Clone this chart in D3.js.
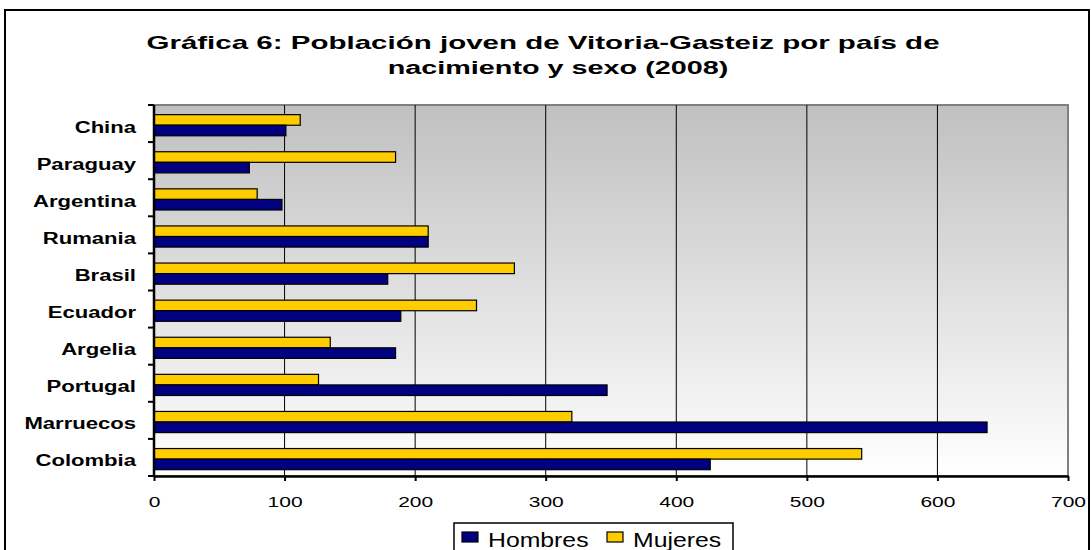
<!DOCTYPE html>
<html>
<head>
<meta charset="utf-8">
<script src="https://cdn.jsdelivr.net/npm/d3@7"></script>
<style>
  body { margin: 0; background: #fff; }
  text { font-family: Arial, "Liberation Sans", sans-serif; }
</style>
</head>
<body>
<div id="chart"></div>
<script>
// chart data
var paises = ["China", "Paraguay", "Argentina", "Rumania", "Brasil", "Ecuador", "Argelia", "Portugal", "Marruecos", "Colombia"];
var hombres = [101, 73, 98, 210, 179, 189, 185, 347, 638, 426];
var mujeres = [112, 185, 79, 210, 276, 247, 135, 126, 320, 542];
var series = ["Mujeres", "Hombres"];
var xTicks = [0, 100, 200, 300, 400, 500, 600, 700];
var titulo = ["Gráfica 6: Población joven de Vitoria-Gasteiz por país de", "nacimiento y sexo (2008)"];

var width = 1091;
var height = 550;
// plot area edges (note: "top" is reserved on window, so use other names)
var plotL = 154, plotR = 1068, plotT = 105, plotB = 476;

var colores = { "Hombres": "#000080", "Mujeres": "#ffcc00" };

var svg = d3.select("#chart").append("svg")
  .attr("width", width)
  .attr("height", height);

// outer frame
svg.append("rect")
  .attr("x", 5).attr("y", 10)
  .attr("width", 1084).attr("height", 600)
  .attr("fill", "#fff")
  .attr("stroke", "#000")
  .attr("stroke-width", 2);

// stretched text helper (the picture is wider than the font)
function label(g, txt, x, y, sx, opts) {
  return g.append("text")
    .attr("transform", "translate(" + x + "," + y + ") scale(" + sx + ",1)")
    .attr("text-anchor", opts.anchor || "start")
    .attr("font-size", opts.size)
    .attr("font-weight", opts.bold ? "bold" : "normal")
    .attr("fill", "#000")
    .text(txt);
}

label(svg, titulo[0], 543, 49, 1.64, { anchor: "middle", size: 18, bold: true });
label(svg, titulo[1], 558, 74, 1.6, { anchor: "middle", size: 18, bold: true });

var x = d3.scaleLinear().domain([0, 700]).range([plotL, plotR]);
var y = d3.scaleBand().domain(paises).range([plotT, plotB]);
var ySub = d3.scaleBand().domain(series)
  .range([y.bandwidth() * 0.26, y.bandwidth() * 0.83]);

// plot background gradient
var defs = svg.append("defs");
var grad = defs.append("linearGradient")
  .attr("id", "bg").attr("x1", 0).attr("y1", 0).attr("x2", 0).attr("y2", 1);
grad.append("stop").attr("offset", "0%").attr("stop-color", "#c0c0c0");
grad.append("stop").attr("offset", "100%").attr("stop-color", "#ffffff");

svg.append("rect")
  .attr("x", plotL).attr("y", plotT)
  .attr("width", plotR - plotL).attr("height", plotB - plotT)
  .attr("fill", "url(#bg)")
  .attr("stroke", "#808080")
  .attr("stroke-width", 2);

// vertical gridlines
svg.append("g").selectAll("line")
  .data(xTicks.filter(function(d) { return d > 0 && d < 700; }))
  .enter().append("line")
  .attr("x1", function(d) { return x(d); })
  .attr("x2", function(d) { return x(d); })
  .attr("y1", plotT).attr("y2", plotB)
  .attr("stroke", "#000")
  .attr("stroke-width", 1);

// bars
var rows = paises.map(function(p, i) {
  return { pais: p, Hombres: hombres[i], Mujeres: mujeres[i] };
});

var grupos = svg.append("g").selectAll("g")
  .data(rows)
  .enter().append("g")
  .attr("transform", function(d) { return "translate(0," + y(d.pais) + ")"; });

grupos.selectAll("rect")
  .data(function(d) { return series.map(function(s) { return { key: s, value: d[s] }; }); })
  .enter().append("rect")
  .attr("x", x(0))
  .attr("y", function(d) { return ySub(d.key); })
  .attr("width", function(d) { return x(d.value) - x(0); })
  .attr("height", ySub.bandwidth())
  .attr("fill", function(d) { return colores[d.key]; })
  .attr("stroke", "#000")
  .attr("stroke-width", 1.2);

// x axis
var xAxis = svg.append("g")
  .attr("transform", "translate(0," + plotB + ")")
  .call(d3.axisBottom(x).tickValues(xTicks).tickSize(5).tickSizeOuter(0));
xAxis.select(".domain").attr("stroke", "#000").attr("stroke-width", 2.5);
xAxis.selectAll(".tick line").attr("stroke", "#000").attr("stroke-width", 2);
xAxis.selectAll(".tick text")
  .attr("y", 0).attr("dy", 0)
  .attr("transform", "translate(0,31) scale(1.5,1)")
  .attr("font-size", 14)
  .attr("font-family", "Arial, 'Liberation Sans', sans-serif")
  .attr("fill", "#000");

// y axis: line plus ticks on category boundaries
var yAxis = svg.append("g");
yAxis.append("line")
  .attr("x1", plotL).attr("x2", plotL)
  .attr("y1", plotT).attr("y2", plotB)
  .attr("stroke", "#000").attr("stroke-width", 2.5);
yAxis.selectAll(".ytick")
  .data(paises.map(function(p) { return y(p); }).concat([plotB]))
  .enter().append("line")
  .attr("class", "ytick")
  .attr("x1", plotL - 6).attr("x2", plotL)
  .attr("y1", function(d) { return d; })
  .attr("y2", function(d) { return d; })
  .attr("stroke", "#000").attr("stroke-width", 2);

paises.forEach(function(p) {
  label(svg, p, 136, y(p) + y.bandwidth() / 2 + 9, 1.38, { anchor: "end", size: 16, bold: true });
});

// legend
var leg = svg.append("g");
leg.append("rect")
  .attr("x", 454).attr("y", 523)
  .attr("width", 279).attr("height", 40)
  .attr("fill", "#fff")
  .attr("stroke", "#000").attr("stroke-width", 1.5);

var legX = { "Hombres": 462, "Mujeres": 607 };
["Hombres", "Mujeres"].forEach(function(s) {
  leg.append("rect")
    .attr("x", legX[s]).attr("y", 532)
    .attr("width", 16).attr("height", 10)
    .attr("fill", colores[s])
    .attr("stroke", "#000").attr("stroke-width", 1.2);
  label(leg, s, legX[s] + 26, 547, 1.24, { size: 20 });
});
</script>
</body>
</html>
